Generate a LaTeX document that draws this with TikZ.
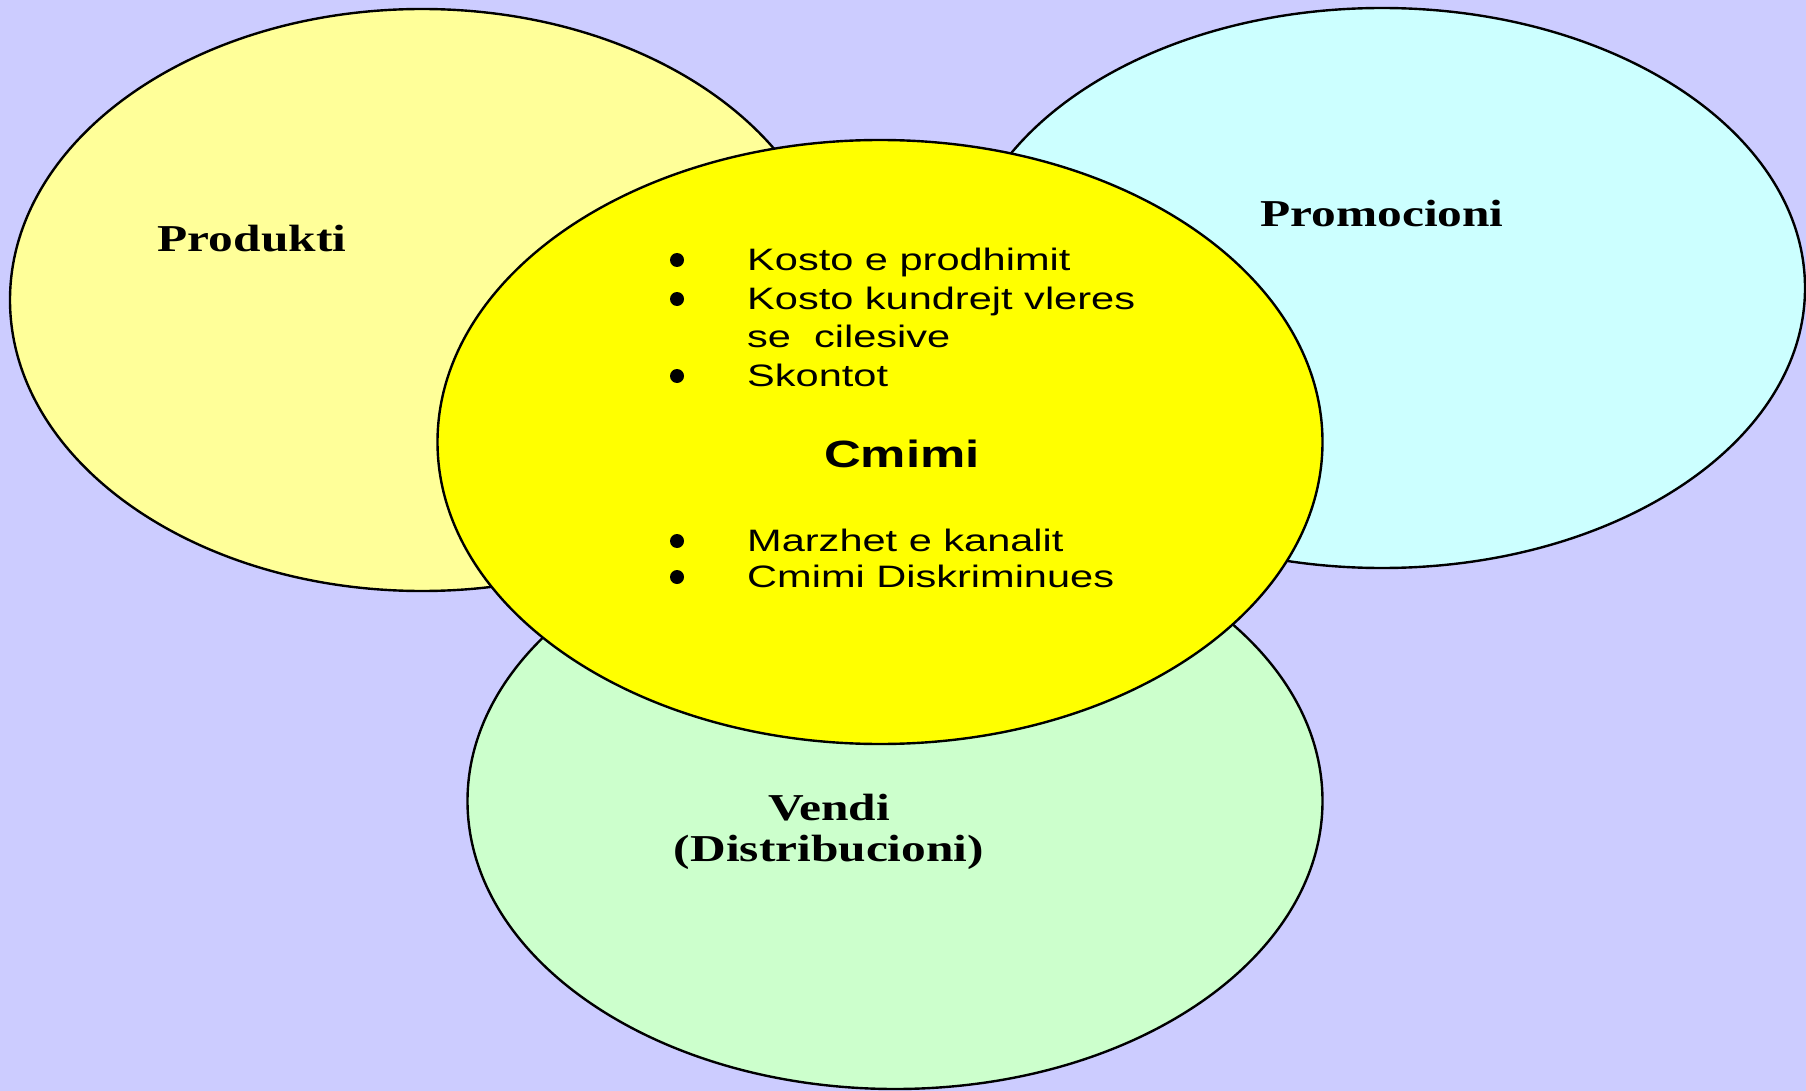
\documentclass[tikz,border=0pt]{standalone}
\usepackage{fontspec}
\newfontfamily\labfont{Liberation Serif}[FakeStretch=1.3]
\newfontfamily\arialx{Liberation Sans}[FakeStretch=1.34]
\usetikzlibrary{shapes.geometric}
\definecolor{bgc}{HTML}{CCCCFF}
\definecolor{prodc}{HTML}{FFFF99}
\definecolor{promc}{HTML}{CCFFFF}
\definecolor{vendc}{HTML}{CCFFCC}
\definecolor{cmimc}{HTML}{FFFF00}
\tikzset{
  blob/.style={ellipse, draw=black, line width=2.4pt, inner sep=0pt},
  lab/.style={inner sep=0pt, anchor=base, font=\labfont\bfseries\fontsize{38}{41}\selectfont, align=center},
  item/.style={inner sep=0pt, anchor=base west, font=\arialx\fontsize{31}{38}\selectfont},
  bul/.style={circle, fill=black, inner sep=0pt, minimum size=14pt},
  ttl/.style={inner sep=0pt, anchor=base, font=\arialx\bfseries\fontsize{38}{40}\selectfont}
}
\begin{document}
\begin{tikzpicture}[x=1pt,y=-1pt]
\useasboundingbox (0,0) rectangle (1806,1091);
\fill[bgc] (0,0) rectangle (1806,1091);
% ellipses
\node[blob, fill=prodc, minimum width=824pt, minimum height=582pt] (prod) at (422,300) {};
\node[blob, fill=promc, minimum width=846pt, minimum height=560pt] (prom) at (1382,288) {};
\node[blob, fill=vendc, minimum width=855pt, minimum height=576pt] (vend) at (895,801) {};
\node[blob, fill=cmimc, minimum width=885pt, minimum height=604pt] (cmim) at (880,442) {};
% labels
\node[lab] (tprod) at (252,252) {Produkti};
\node[lab] (tprom) at (1382,227) {Promocioni};
\node[lab] (tvend) at (829,861) {Vendi\\(Distribucioni)};
% items
\node[bul] (b1) at (677,260) {};
\node[item] (i1) at (747,270) {Kosto e prodhimit};
\node[bul] (b2) at (677,299) {};
\node[item] (i2) at (747,309) {Kosto kundrejt vleres};
\node[item] (i2b) at (747,347) {se\ \ cilesive};
\node[bul] (b3) at (677,376) {};
\node[item] (i3) at (747,386) {Skontot};
\node[ttl] (tcm) at (902,467) {Cmimi};
\node[bul] (b4) at (677,541) {};
\node[item] (i4) at (747,551) {Marzhet e kanalit};
\node[bul] (b5) at (677,577) {};
\node[item] (i5) at (747,587) {Cmimi Diskriminues};
\end{tikzpicture}
\end{document}
